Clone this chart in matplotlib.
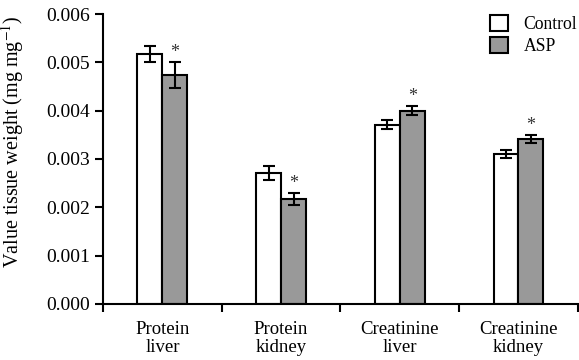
import matplotlib.pyplot as plt
import numpy as np

plt.rcParams['font.family'] = ['Liberation Serif', 'DejaVu Serif']
plt.rcParams['mathtext.fontset'] = 'stix'

categories = ['Protein\nliver', 'Protein\nkidney', 'Creatinine\nliver', 'Creatinine\nkidney']
control = [0.00517, 0.00271, 0.00371, 0.00310]
control_err = [0.00017, 0.00014, 0.00010, 0.00008]
asp = [0.00474, 0.00217, 0.00400, 0.00342]
asp_err = [0.00027, 0.00013, 0.00010, 0.00008]

fig = plt.figure(figsize=(5.79, 3.6), dpi=100)
ax = fig.add_axes([0.178, 0.156, 0.82, 0.805])

x = np.arange(len(categories)) + 0.5
w = 0.21
ekw = dict(elinewidth=1.5, capthick=1.5)
ax.bar(x - w / 2, control, w, yerr=control_err, color='white', edgecolor='black',
       linewidth=1.5, capsize=4, error_kw=ekw, label='Control')
ax.bar(x + w / 2, asp, w, yerr=asp_err, color='#999999', edgecolor='black',
       linewidth=1.5, capsize=4, error_kw=ekw, label='ASP')

for xi, v, e in zip(x, asp, asp_err):
    ax.text(xi + w / 2, v + e + 0.00002, '*', ha='center', va='bottom', fontsize=13,
            color='#333333')

ax.set_xlim(0, 4)
ax.set_ylim(0, 0.006)
ax.set_xticks([0, 1, 2, 3, 4])
ax.set_xticklabels([])
ax.set_xticks(x, minor=True)
ax.set_xticklabels(categories, minor=True, fontsize=13.5, linespacing=1.15)
ax.tick_params(axis='x', which='minor', length=0, pad=12)
ax.tick_params(axis='x', which='major', length=6, width=1.5, direction='out')
ax.set_yticks(np.arange(0, 0.0061, 0.001))
ax.set_yticklabels(['%.3f' % t for t in np.arange(0, 0.0061, 0.001)], fontsize=14)
ax.tick_params(axis='y', length=6, width=1.5, direction='out')
ax.spines['top'].set_visible(False)
ax.spines['right'].set_visible(False)
ax.spines['left'].set_linewidth(1.5)
ax.spines['bottom'].set_linewidth(1.5)
ax.set_ylabel('Value tissue weight (mg mg$^{-1}$)', fontsize=14.5)
ax.yaxis.set_label_coords(-0.163, 0.56)

ax.legend(loc='upper right', bbox_to_anchor=(1.032, 1.05), frameon=False, fontsize=12.7,
          handlelength=1.0, handleheight=1.0, handletextpad=0.9, labelspacing=0.2)

fig.savefig('out.png', dpi=100)
